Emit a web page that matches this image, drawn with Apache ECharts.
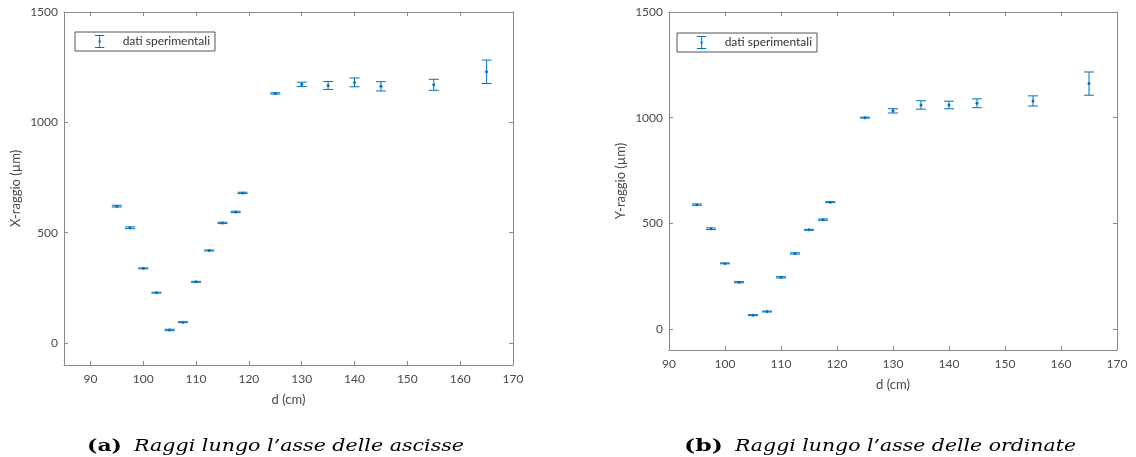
<!DOCTYPE html>
<html>
<head>
<meta charset="utf-8">
<script src="https://cdn.jsdelivr.net/npm/echarts@6/dist/echarts.min.js"></script>
<style>
html,body{margin:0;padding:0;background:#fff;}
#chart{width:1136px;height:457px;}
</style>
</head>
<body>
<div id="chart"></div>
<script>
// ---- data ----
const distances = [95, 97.5, 100, 102.5, 105, 107.5, 110, 112.5, 115, 117.5, 118.8, 125, 130, 135, 140, 145, 155, 165];
const xRadius = [620, 522, 338, 228, 59, 94, 277, 419, 544, 594, 680, 1131, 1172, 1167, 1181, 1163, 1170, 1229];
const xRadiusErr = [4, 4, 2, 2, 3, 2, 2, 2, 3, 3, 3, 3, 10, 18, 20, 21, 25, 53];
const yRadius = [588, 474, 310, 221, 65, 82, 244, 357, 469, 517, 600, 1000, 1032, 1060, 1060, 1068, 1079, 1161];
const yRadiusErr = [3, 4, 2, 3, 2, 2, 3, 3, 2, 3, 2, 2, 10, 20, 18, 21, 24, 55];
const yTicks = [0, 500, 1000, 1500];
const xTicks = [90, 100, 110, 120, 130, 140, 150, 160, 170];
const seriesName = 'dati sperimentali';
const xAxisTitle = 'd (cm)';
const yTitleLeft = 'X-raggio (µm)';
const yTitleRight = 'Y-raggio (µm)';
const captionA = ['(a)', 'Raggi lungo l’asse delle ascisse'];
const captionB = ['(b)', 'Raggi lungo l’asse delle ordinate'];

const BLUE = '#0072BD';
const AXIS = '#8a8a8a';
const LABEL = '#4a4a4a';
const FONT = 'Lato, "Open Sans", sans-serif';

function build(xs, ys, es) {
  return xs.map((x, i) => [x, ys[i], es[i]]);
}

function renderErr(params, api) {
  const x = api.value(0), y = api.value(1), e = api.value(2);
  const c = api.coord([x, y]);
  const top = api.coord([x, y + e]);
  const bot = api.coord([x, y - e]);
  const w = 5;
  const st = {stroke: BLUE, lineWidth: 1};
  return {
    type: 'group',
    children: [
      {type: 'line', shape: {x1: c[0], y1: top[1], x2: c[0], y2: bot[1]}, style: st},
      {type: 'line', shape: {x1: c[0] - w, y1: top[1], x2: c[0] + w, y2: top[1]}, style: st},
      {type: 'line', shape: {x1: c[0] - w, y1: bot[1], x2: c[0] + w, y2: bot[1]}, style: st},
      {type: 'circle', shape: {cx: c[0], cy: c[1], r: 1.5}, style: {fill: BLUE}}
    ]
  };
}

const tickCommon = (vals) => ({show: true, inside: true, length: 4, customValues: vals, lineStyle: {color: AXIS}});
const plain = (v) => String(v);

function xAxes(grid, min, nameGap) {
  return [
    {
      type: 'value', gridIndex: grid, min: min, max: 170, position: 'bottom',
      name: xAxisTitle, nameLocation: 'middle', nameGap: nameGap,
      nameTextStyle: {fontFamily: FONT, fontSize: 13, color: LABEL},
      axisLine: {show: true, onZero: false, lineStyle: {color: AXIS}},
      axisTick: tickCommon(xTicks),
      axisLabel: {show: true, customValues: xTicks, formatter: plain, fontFamily: FONT, fontSize: 12, color: LABEL, margin: 8},
      splitLine: {show: false}
    },
    {
      type: 'value', gridIndex: grid, min: min, max: 170, position: 'top',
      axisLine: {show: true, onZero: false, lineStyle: {color: AXIS}},
      axisTick: tickCommon(xTicks),
      axisLabel: {show: false},
      splitLine: {show: false}
    }
  ];
}

function yAxes(grid, name) {
  return [
    {
      type: 'value', gridIndex: grid, min: -100, max: 1500, position: 'left',
      name: name, nameLocation: 'middle', nameGap: 42, nameRotate: 90,
      nameTextStyle: {fontFamily: FONT, fontSize: 13, color: LABEL},
      axisLine: {show: true, onZero: false, lineStyle: {color: AXIS}},
      axisTick: tickCommon(yTicks),
      axisLabel: {show: true, customValues: yTicks, formatter: plain, fontFamily: FONT, fontSize: 12, color: LABEL, margin: 6},
      splitLine: {show: false}
    },
    {
      type: 'value', gridIndex: grid, min: -100, max: 1500, position: 'right',
      axisLine: {show: true, onZero: false, lineStyle: {color: AXIS}},
      axisTick: tickCommon(yTicks),
      axisLabel: {show: false},
      splitLine: {show: false}
    }
  ];
}

const legendIcon = 'path://M0,0H10V1H0Z M4.5,1H5.5V13H4.5Z M0,13H10V14H0Z M3.8,5.8H6.2V8.2H3.8Z';

function legend(left, top) {
  return {
    left: left, top: top, orient: 'vertical',
    data: [seriesName],
    icon: legendIcon,
    itemWidth: 10, itemHeight: 13,
    padding: [3, 5, 3, 20],
    borderColor: '#555', borderWidth: 1, borderRadius: 0,
    backgroundColor: '#fff',
    selectedMode: false,
    itemStyle: {color: BLUE},
    textStyle: {fontFamily: FONT, fontSize: 12, color: '#333', padding: [0, 0, 0, 13]}
  };
}

// caption layout: fit measured text to target widths (layout only)
const SERIF = '"DejaVu Serif", "Liberation Serif", serif';
const measureCtx = document.createElement('canvas').getContext('2d');
function measure(text, font) {
  measureCtx.font = font;
  return measureCtx.measureText(text).width;
}
function captionEls(x0, baseline, parts, boldW, italX, italW) {
  const fb = 'bold 17px ' + SERIF;
  const fi = 'italic 17px ' + SERIF;
  const sb = boldW / measure(parts[0], fb);
  const si = italW / measure(parts[1], fi);
  return [
    {type: 'text', x: x0, y: baseline, scaleX: sb,
     style: {text: parts[0], font: fb, fill: '#000', textVerticalAlign: 'alphabetic', verticalAlign: 'alphabetic'}},
    {type: 'text', x: italX, y: baseline, scaleX: si,
     style: {text: parts[1], font: fi, fill: '#000', textVerticalAlign: 'alphabetic', verticalAlign: 'alphabetic'}}
  ];
}

const chart = echarts.init(document.getElementById('chart'), null, {renderer: 'canvas'});
chart.setOption({
  animation: false,
  backgroundColor: '#fff',
  grid: [
    {left: 64, right: 623, top: 12, bottom: 92, containLabel: false},
    {left: 669, right: 19, top: 12, bottom: 107, containLabel: false}
  ],
  xAxis: [...xAxes(0, 85, 28), ...xAxes(1, 90, 28)],
  yAxis: [...yAxes(0, yTitleLeft), ...yAxes(1, yTitleRight)],
  legend: [legend(75, 32), legend(677, 33)],
  series: [
    {
      name: seriesName, type: 'custom', xAxisIndex: 0, yAxisIndex: 0,
      itemStyle: {color: BLUE},
      renderItem: renderErr,
      data: build(distances, xRadius, xRadiusErr),
      encode: {x: 0, y: [1]}
    },
    {
      name: seriesName, type: 'custom', xAxisIndex: 2, yAxisIndex: 2,
      itemStyle: {color: BLUE},
      renderItem: renderErr,
      data: build(distances, yRadius, yRadiusErr),
      encode: {x: 0, y: [1]}
    }
  ],
  graphic: [
    ...captionEls(87, 438, captionA, 35, 134, 330),
    ...captionEls(684, 438, captionB, 39, 735, 341)
  ]
});
</script>
</body>
</html>
